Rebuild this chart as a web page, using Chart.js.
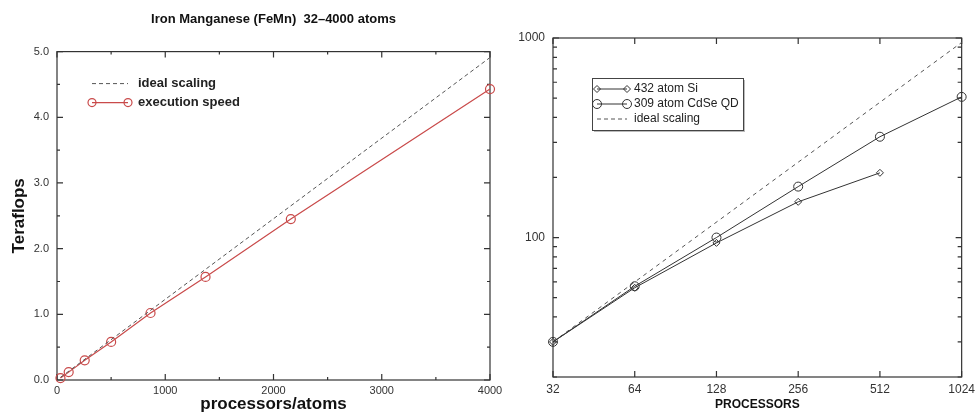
<!DOCTYPE html>
<html>
<head>
<meta charset="utf-8">
<script src="https://cdn.jsdelivr.net/npm/chart.js@4.4.0/dist/chart.umd.min.js"></script>
<style>
    html, body { margin: 0; padding: 0; background: #fff; }
    #wrap { position: relative; width: 980px; height: 414px; overflow: hidden; }
    canvas { position: absolute; top: 0; }
    #femnChart { left: 0; }
    #scaleChart { left: 480px; }
</style>
</head>
<body>
<div id="wrap">
    <canvas id="femnChart" width="510" height="414"></canvas>
    <canvas id="scaleChart" width="500" height="414"></canvas>
</div>
<script>
// left panel - FeMn, teraflops vs processors/atoms
const femnAtoms = [32, 108, 256, 500, 864, 1372, 2160, 4000];
const femnTflops = [0.03, 0.12, 0.30, 0.58, 1.02, 1.57, 2.45, 4.43];
const femnIdealAtoms = [32, 4000];
const femnIdealTflops = [0.04, 4.91];
const femnXMinor = [500, 1500, 2500, 3500];
const femnYMinor = [0.5, 1.5, 2.5, 3.5, 4.5];

// right panel - speed vs processors (log-log)
const processors = [32, 64, 128, 256, 512, 1024];
const siSpeed = [30, 56, 94, 151, 211];
const cdseSpeed = [30, 57, 100, 180, 320, 507];
const idealProcs = [32, 1024];
const idealSpeed = [30, 950];
const speedMajor = [100, 1000];
const speedMinor = [20, 30, 40, 50, 60, 70, 80, 90, 200, 300, 400, 500, 600, 700, 800, 900];

const FONT = '"Liberation Sans", Arial, Helvetica, sans-serif';
const RED = '#c94a4a';
const INK = '#333';

const pts = (xs, ys) => ys.map((v, i) => ({ x: xs[i], y: v }));

function marker(ctx, style, x, y, r) {
    ctx.beginPath();
    if (style === 'rectRot') {
        ctx.moveTo(x, y - r);
        ctx.lineTo(x + r, y);
        ctx.lineTo(x, y + r);
        ctx.lineTo(x - r, y);
        ctx.closePath();
    } else {
        ctx.arc(x, y, r, 0, Math.PI * 2);
    }
    ctx.stroke();
}

// box frame with inward ticks on all four sides
const framePlugin = {
    id: 'frame',
    beforeDatasetsDraw(chart, args, opts) {
        const { ctx, chartArea: a } = chart;
        const x = chart.scales.x, y = chart.scales.y;
        ctx.save();
        ctx.strokeStyle = opts.color || INK;
        ctx.lineWidth = 1.2;
        ctx.strokeRect(a.left, a.top, a.right - a.left, a.bottom - a.top);
        ctx.beginPath();
        const xt = (v, len) => {
            const px = x.getPixelForValue(v);
            ctx.moveTo(px, a.bottom); ctx.lineTo(px, a.bottom - len);
            ctx.moveTo(px, a.top); ctx.lineTo(px, a.top + len);
        };
        const yt = (v, len) => {
            const py = y.getPixelForValue(v);
            ctx.moveTo(a.left, py); ctx.lineTo(a.left + len, py);
            ctx.moveTo(a.right, py); ctx.lineTo(a.right - len, py);
        };
        x.ticks.forEach(t => xt(t.value, opts.major));
        (opts.xMinor || []).forEach(v => xt(v, opts.minor));
        y.ticks.forEach(t => yt(t.value, opts.major));
        (opts.yMinor || []).forEach(v => yt(v, opts.minor));
        ctx.stroke();
        ctx.restore();
    }
};

// hand-drawn key (line + end markers + label)
const keyPlugin = {
    id: 'keyBox',
    afterDraw(chart, args, opts) {
        const { ctx, chartArea: a } = chart;
        const x0 = a.left + opts.dx, y0 = a.top + opts.dy;
        ctx.save();
        if (opts.box) {
            const b = opts.box;
            ctx.fillStyle = '#bbb';
            ctx.fillRect(x0 + 2, y0 + 2, b.w, b.h);
            ctx.fillStyle = '#fff';
            ctx.fillRect(x0, y0, b.w, b.h);
            ctx.strokeStyle = '#444';
            ctx.lineWidth = 1;
            ctx.strokeRect(x0 + 0.5, y0 + 0.5, b.w, b.h);
        }
        opts.items.forEach((it, i) => {
            const ly = y0 + opts.firstRow + i * opts.rowGap;
            const lx1 = x0 + opts.lineStart, lx2 = lx1 + opts.lineLen;
            ctx.strokeStyle = it.color;
            ctx.lineWidth = it.width || 1;
            ctx.setLineDash(it.dash || []);
            ctx.beginPath();
            ctx.moveTo(lx1, ly); ctx.lineTo(lx2, ly);
            ctx.stroke();
            ctx.setLineDash([]);
            if (it.marker) {
                marker(ctx, it.marker, lx1, ly, it.r);
                marker(ctx, it.marker, lx2, ly, it.r);
            }
            ctx.fillStyle = opts.textColor;
            ctx.font = opts.font;
            ctx.textBaseline = 'middle';
            ctx.fillText(it.label, lx2 + opts.textGap, ly);
        });
        ctx.restore();
    }
};

new Chart(document.getElementById('femnChart'), {
    type: 'line',
    data: {
        datasets: [
            {
                label: 'ideal scaling',
                data: pts(femnIdealAtoms, femnIdealTflops),
                borderColor: '#555',
                borderWidth: 1,
                borderDash: [4, 3],
                pointRadius: 0,
                clip: false,
            },
            {
                label: 'execution speed',
                data: pts(femnAtoms, femnTflops),
                borderColor: RED,
                borderWidth: 1.2,
                pointRadius: 4.5,
                pointBorderWidth: 1.2,
                pointBorderColor: RED,
                pointBackgroundColor: 'rgba(0,0,0,0)',
                clip: false,
            },
        ],
    },
    options: {
        responsive: false,
        animation: false,
        devicePixelRatio: 1,
        layout: { padding: { left: 0, right: 20, top: 0, bottom: 0 } },
        plugins: {
            legend: { display: false },
            tooltip: { enabled: false },
            title: {
                display: true,
                text: 'Iron Manganese (FeMn)  32\u20134000 atoms',
                fullSize: false,
                color: '#111',
                font: { family: FONT, size: 13, weight: 'bold' },
                padding: { top: 12, bottom: 24 },
            },
            frame: { major: 6, minor: 3, xMinor: femnXMinor, yMinor: femnYMinor },
            keyBox: {
                dx: 35, dy: 20, firstRow: 12, rowGap: 19,
                lineStart: 0, lineLen: 36, textGap: 10,
                font: 'bold 13px ' + FONT, textColor: '#222',
                items: [
                    { label: 'ideal scaling', color: '#555', dash: [4, 3] },
                    { label: 'execution speed', color: RED, width: 1.2, marker: 'circle', r: 4 },
                ],
            },
        },
        scales: {
            x: {
                type: 'linear',
                min: 0,
                max: 4000,
                grid: { display: false, drawTicks: false },
                border: { display: false },
                ticks: { stepSize: 1000, padding: 4, color: INK, maxRotation: 0, font: { family: FONT, size: 11 }, callback: v => String(v) },
                title: {
                    display: true,
                    text: 'processors/atoms',
                    color: '#111',
                    font: { family: FONT, size: 17, weight: 'bold', lineHeight: 1.1 },
                    padding: { top: 0, bottom: 0 },
                },
                afterFit: s => { s.height = 34; },
            },
            y: {
                type: 'linear',
                min: 0,
                max: 5,
                grid: { display: false, drawTicks: false },
                border: { display: false },
                ticks: { stepSize: 1, padding: 8, color: INK, font: { family: FONT, size: 11 }, callback: v => v.toFixed(1) },
                title: {
                    display: true,
                    text: 'Teraflops',
                    color: '#111',
                    font: { family: FONT, size: 17, weight: 'bold' },
                    padding: { top: 9, bottom: 0 },
                },
                afterFit: s => { s.width = 57; },
            },
        },
    },
    plugins: [framePlugin, keyPlugin],
});

new Chart(document.getElementById('scaleChart'), {
    type: 'line',
    data: {
        datasets: [
            {
                label: '432 atom Si',
                data: pts(processors, siSpeed),
                borderColor: INK,
                borderWidth: 1,
                pointStyle: 'rectRot',
                pointRadius: 3.5,
                pointBorderWidth: 1,
                pointBorderColor: INK,
                pointBackgroundColor: 'rgba(0,0,0,0)',
                clip: false,
            },
            {
                label: '309 atom CdSe QD',
                data: pts(processors, cdseSpeed),
                borderColor: INK,
                borderWidth: 1,
                pointStyle: 'circle',
                pointRadius: 4.5,
                pointBorderWidth: 1,
                pointBorderColor: INK,
                pointBackgroundColor: 'rgba(0,0,0,0)',
                clip: false,
            },
            {
                label: 'ideal scaling',
                data: pts(idealProcs, idealSpeed),
                borderColor: '#555',
                borderWidth: 1,
                borderDash: [4, 4],
                pointRadius: 0,
                clip: false,
            },
        ],
    },
    options: {
        responsive: false,
        animation: false,
        devicePixelRatio: 1,
        layout: { padding: { left: 0, right: 15, top: 38, bottom: 0 } },
        plugins: {
            legend: { display: false },
            tooltip: { enabled: false },
            frame: { major: 6, minor: 4, yMinor: speedMinor },
            keyBox: {
                dx: 39, dy: 40, firstRow: 11, rowGap: 15,
                lineStart: 5, lineLen: 30, textGap: 7,
                font: '12px ' + FONT, textColor: '#222',
                box: { w: 151, h: 52 },
                items: [
                    { label: '432 atom Si', color: INK, marker: 'rectRot', r: 3.5 },
                    { label: '309 atom CdSe QD', color: INK, marker: 'circle', r: 4.5 },
                    { label: 'ideal scaling', color: '#555', dash: [4, 3] },
                ],
            },
        },
        scales: {
            x: {
                type: 'logarithmic',
                min: 32,
                max: 1024,
                grid: { display: false, drawTicks: false },
                border: { display: false },
                afterBuildTicks: s => { s.ticks = processors.map(v => ({ value: v })); },
                ticks: { padding: 5, color: INK, maxRotation: 0, autoSkip: false, font: { family: FONT, size: 12 }, callback: v => String(v) },
                title: {
                    display: true,
                    text: 'PROCESSORS',
                    color: '#111',
                    font: { family: FONT, size: 12, weight: 'bold' },
                    padding: { top: 0, bottom: 2 },
                },
                afterFit: s => { s.height = 37; },
            },
            y: {
                type: 'logarithmic',
                min: 20,
                max: 1000,
                grid: { display: false, drawTicks: false },
                border: { display: false },
                afterBuildTicks: s => { s.ticks = speedMajor.map(v => ({ value: v })); },
                ticks: { padding: 8, color: INK, autoSkip: false, font: { family: FONT, size: 12 }, callback: v => String(v) },
                afterFit: s => { s.width = 73; },
            },
        },
    },
    plugins: [framePlugin, keyPlugin],
});
</script>
</body>
</html>
